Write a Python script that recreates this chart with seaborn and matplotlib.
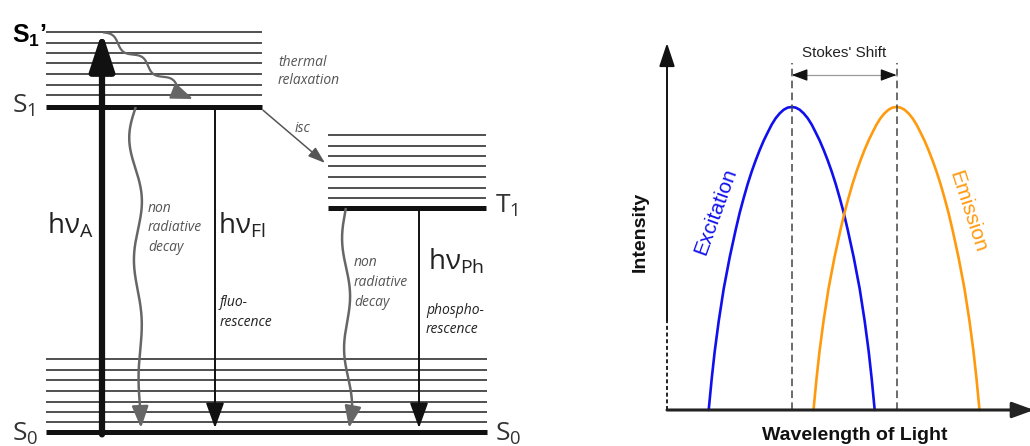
import numpy as np
import pandas as pd
import seaborn as sns
import matplotlib
matplotlib.use("Agg")
import matplotlib.pyplot as plt

sns.set_theme(style="white")
plt.rcParams['font.family'] = ['Open Sans', 'DejaVu Sans']
plt.rcParams['mathtext.fontset'] = 'custom'
plt.rcParams['mathtext.rm'] = 'Open Sans'
plt.rcParams['mathtext.it'] = 'Open Sans:italic'
plt.rcParams['mathtext.bf'] = 'Liberation Sans:bold'

# Jablonski levels (energy, arbitrary units, S0 = 0)
s0_energy = 0.0
s0_levels = [2.5, 5.0, 7.5, 10.25, 13.0, 15.5, 18.25]
s1_energy = 81.25
s1_levels = [84.2, 86.8, 89.5, 92.2, 94.7, 97.3, 99.9]
t1_energy = 56.0
t1_levels = [58.5, 61.0, 63.75, 66.5, 69.0, 71.5, 74.25]

# spectra (wavelength a.u., normalised intensity)
excitation_wl = [41.7, 44.7, 47.7, 51.7, 56.7, 62.7, 68.7, 72.7, 76.7, 80.7, 84.7, 88.7, 92.7, 96.7,
                 100.7, 104.7, 108.7, 112.7, 116.7, 120.7, 124.7,
                 128.7, 132.7, 136.7, 140.7, 144.7, 148.7, 152.7, 156.7, 160.7, 164.7, 168.7, 172.7,
                 176.7, 180.7, 186.7, 192.7, 197.7, 201.7, 204.7, 207.7]
emission_wl = [146.5, 149.5, 152.5, 156.5, 161.5, 167.5, 173.5, 177.5, 181.5, 185.5, 189.5, 193.5, 197.5,
               201.5, 205.5, 209.5, 213.5, 217.5, 221.5, 225.5, 229.5,
               233.5, 237.5, 241.5, 245.5, 249.5, 253.5, 257.5, 261.5, 265.5, 269.5, 273.5, 277.5,
               281.5, 285.5, 291.5, 297.5, 302.5, 306.5, 309.5, 312.5]
excitation_int = [0, .103, .193, .293, .40, .504, .595, .651, .70, .746, .787, .824, .858, .889,
                  .916, .942, .963, .979, .991, .998, 1.0,
                  .998, .991, .979, .963, .942, .916, .889, .858, .824, .787, .746, .70,
                  .651, .595, .504, .40, .293, .193, .103, 0]
emission_int = [0, .103, .193, .293, .40, .504, .595, .651, .70, .746, .787, .824, .858, .889,
                .916, .942, .963, .979, .991, .998, 1.0,
                .998, .991, .979, .963, .942, .916, .889, .858, .824, .787, .746, .70,
                .651, .595, .504, .40, .293, .193, .103, 0]

EPX = 4.0  # px per energy unit


def head(l, w):
    return '-|>,head_length=%.2f,head_width=%.2f' % (l, w)


def wavy_arrow(ax, start, end, amp, waves, phase, color, lw, hl, decay=0.0):
    x0, y0 = start[0], start[1] * EPX
    x1, y1 = end[0], end[1] * EPX
    L = np.hypot(x1 - x0, y1 - y0)
    dx, dy = (x1 - x0) / L, (y1 - y0) / L
    nx, ny = -dy, dx
    t = np.linspace(0, 1 - hl / L, 300)
    off = amp * (1 - decay * t) * np.sin(2 * np.pi * waves * t + phase)
    xs = x0 + dx * L * t + nx * off
    ys = y0 + dy * L * t + ny * off
    ax.plot(xs, ys / EPX, color=color, lw=lw, solid_capstyle='butt')
    ax.annotate('', xy=(x1, y1 / EPX), xytext=(xs[-1], ys[-1] / EPX),
                arrowprops=dict(arrowstyle=head(1.1, 0.42), color=color, lw=lw,
                                shrinkA=0, shrinkB=0))


def lines_text(ax, x, e_top, lines, step, **kw):
    for i, s in enumerate(lines):
        ax.text(x, e_top - i * step, s, ha='left', va='center', **kw)


fig = plt.figure(figsize=(10.3, 4.46), dpi=100)

# ---- Jablonski diagram ----
ax = fig.add_axes([0, 0, 1, 1])
ax.set_xlim(0, 1030)
ax.set_ylim(-3.5, 108)
ax.set_axis_off()

thin = dict(colors='#505050', lw=1.4)
thick = dict(colors='#111111', lw=3.6)
ax.hlines(s0_levels, 46, 487, **thin)
ax.hlines(s0_energy, 46, 487, **thick)
ax.hlines(s1_levels, 46, 262, **thin)
ax.hlines(s1_energy, 46, 262, **thick)
ax.hlines(t1_levels, 328, 486, **thin)
ax.hlines(t1_energy, 328, 486, **thick)

# absorption
ax.annotate('', xy=(102, max(s1_levels) + 0.1), xytext=(102, s0_energy - 0.6),
            arrowprops=dict(arrowstyle=head(1.9, 0.62), color='#111111', lw=4.5,
                            shrinkA=0, shrinkB=0))
# fluorescence / phosphorescence
for xv, e in [(215, s1_energy), (419, t1_energy)]:
    ax.annotate('', xy=(xv, s0_energy + 1.0), xytext=(xv, e),
                arrowprops=dict(arrowstyle=head(1.3, 0.47), color='#111111', lw=1.4,
                                shrinkA=0, shrinkB=0))
# isc
ax.annotate('', xy=(325, 67.25), xytext=(263, s1_energy - 0.8),
            arrowprops=dict(arrowstyle=head(0.86, 0.29), color='#555555', lw=1.1,
                            shrinkA=0, shrinkB=0))

grey = '#666666'
wavy_arrow(ax, (103, max(s1_levels)), (193, 83.25), 3.5, 3, 0, grey, 1.6, 12)
wavy_arrow(ax, (135, s1_energy), (141, 1.0), 7, 2.6, -3.25, grey, 1.8, 16, decay=0.9)
wavy_arrow(ax, (345, t1_energy), (349, 1.0), 3.5, 2, -3.39, grey, 1.8, 16)

big = dict(fontsize=19, color='#333333')
ax.text(12, 97.2, r"$\mathbf{S_1}$’", fontsize=18, fontweight='bold', color='black',
        family=['Liberation Sans', 'DejaVu Sans'], ha='left', va='baseline')
ax.text(12, 79.75, r"$\mathrm{S_1}$", ha='left', va='baseline', **big)
ax.text(12, -2.2, r"$\mathrm{S_0}$", ha='left', va='baseline', **big)
ax.text(495, -2.2, r"$\mathrm{S_0}$", ha='left', va='baseline', **big)
ax.text(495, 54.75, r"$\mathrm{T_1}$", ha='left', va='baseline', **big)

hv = dict(fontsize=20, color='#222222', ha='left', va='baseline')
ax.text(47, 49.75, r"$\mathrm{hν_{A}}$", **hv)
ax.text(218, 49.75, r"$\mathrm{hν_{Fl}}$", **hv)
ax.text(428, 40.5, r"$\mathrm{hν_{Ph}}$", **hv)

it_grey = dict(fontsize=10, style='italic', color='#555555')
it_dark = dict(fontsize=10, style='italic', color='#222222')
lines_text(ax, 278, 92.5, ['thermal', 'relaxation'], 4.7, **it_grey)
lines_text(ax, 295, 76.0, ['isc'], 4.7, **it_grey)
lines_text(ax, 148, 56.0, ['non', 'radiative', 'decay'], 4.9, **it_grey)
lines_text(ax, 220, 32.25, ['fluo-', 'rescence'], 4.8, **it_dark)
lines_text(ax, 354, 42.25, ['non', 'radiative', 'decay'], 5.0, **it_grey)
lines_text(ax, 426, 30.5, ['phospho-', 'rescence'], 4.8, **it_dark)

# ---- Stokes shift spectra ----
ax2 = fig.add_axes([667 / 1030, 36 / 446, 363 / 1030, 367 / 446])
ax2.set_xlim(0, 363)
ax2.set_ylim(0, 1.2112)
ax2.set_axis_off()
ax2.patch.set_alpha(0)

exc = pd.DataFrame({'wavelength': excitation_wl, 'intensity': excitation_int})
emi = pd.DataFrame({'wavelength': emission_wl, 'intensity': emission_int})
sns.lineplot(x='wavelength', y='intensity', data=exc, ax=ax2, color='#1010ee', lw=1.9,
             estimator=None, sort=False, clip_on=False)
sns.lineplot(x='wavelength', y='intensity', data=emi, ax=ax2, color='#ff9a0e', lw=1.9,
             estimator=None, sort=False, clip_on=False)

exc_peak = exc.loc[exc['intensity'].idxmax(), 'wavelength']
emi_peak = emi.loc[emi['intensity'].idxmax(), 'wavelength']
for xv in [exc_peak, emi_peak]:
    ax2.plot([xv, xv], [0, 1.145], color='#444444', lw=1.1, ls=(0, (5, 2.8)), clip_on=False)

ys = 1.1056
ax2.plot([exc_peak, emi_peak], [ys, ys], color='#999999', lw=0.9)
ax2.annotate('', xy=(exc_peak, ys), xytext=(exc_peak + 12, ys),
             arrowprops=dict(arrowstyle=head(0.8, 0.3), color='#111111', lw=0.9, shrinkA=0, shrinkB=0))
ax2.annotate('', xy=(emi_peak, ys), xytext=(emi_peak - 12, ys),
             arrowprops=dict(arrowstyle=head(0.8, 0.3), color='#111111', lw=0.9, shrinkA=0, shrinkB=0))

sans = ['Liberation Sans', 'DejaVu Sans']
ax2.text((exc_peak + emi_peak) / 2, 1.178, "Stokes' Shift", fontsize=11, color='#222222',
         family=sans, ha='center', va='center')

# axes arrows
ax2.plot([0, 0], [0, 0.297], color='#111111', lw=1.3, ls=(0, (2.2, 1.5)), clip_on=False)
ax2.annotate('', xy=(0, 1.211), xytext=(0, 0.297), annotation_clip=False,
             arrowprops=dict(arrowstyle=head(1.2, 0.4), color='#111111', lw=1.4, shrinkA=0, shrinkB=0))
ax2.annotate('', xy=(367, 0), xytext=(0, 0), annotation_clip=False,
             arrowprops=dict(arrowstyle=head(1.1, 0.4), color='#222222', lw=2.2, shrinkA=0, shrinkB=0))

ax2.text(-27, 0.587, 'Intensity', rotation=90, fontsize=14, fontweight='bold', family=sans,
         ha='center', va='center', rotation_mode='anchor', color='#111111')
ax2.text(188, -0.083, 'Wavelength of Light', fontsize=14, fontweight='bold', family=sans,
         ha='center', va='center', color='#111111')
ax2.text(49, 0.657, 'Excitation', rotation=70, fontsize=15, family=sans, color='#1010ee',
         ha='center', va='center', rotation_mode='anchor')
ax2.text(301, 0.653, 'Emission', rotation=-72, fontsize=15, family=sans, color='#ff9a0e',
         ha='center', va='center', rotation_mode='anchor')

fig.savefig('out.png', dpi=100)
